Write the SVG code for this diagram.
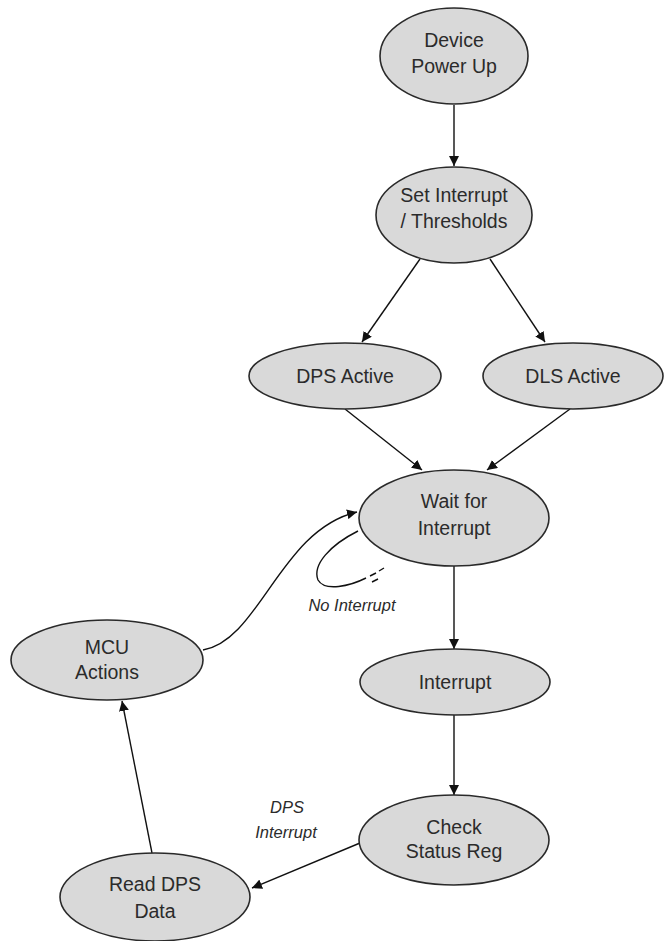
<svg xmlns="http://www.w3.org/2000/svg" width="666" height="941" viewBox="0 0 666 941">
<defs>
<marker id="ah" viewBox="0 0 10 10" refX="10" refY="5" markerWidth="10" markerHeight="10" markerUnits="userSpaceOnUse" orient="auto">
<path d="M0,0 L10,5 L0,10 Z" fill="#111"/>
</marker>
<style>
.n{fill:#d9d9d9;stroke:#2a2a2a;stroke-width:1.6}
.t{font-family:"Liberation Sans",Arial,sans-serif;font-size:19.5px;fill:#2b2b2b;text-anchor:middle}
.l{font-family:"Liberation Sans",Arial,sans-serif;font-size:16.5px;font-style:italic;fill:#2b2b2b;text-anchor:middle}
.c{fill:none;stroke:#111;stroke-width:1.4}
</style>
</defs>
<rect width="666" height="941" fill="#fff"/>
<g id="connectors">
<line class="c" x1="454" y1="105" x2="454" y2="166" marker-end="url(#ah)"/>
<line class="c" x1="420" y1="259" x2="362" y2="342" marker-end="url(#ah)"/>
<line class="c" x1="490" y1="259" x2="545" y2="342" marker-end="url(#ah)"/>
<line class="c" x1="345" y1="409" x2="422" y2="470" marker-end="url(#ah)"/>
<line class="c" x1="570" y1="409" x2="487" y2="470" marker-end="url(#ah)"/>
<line class="c" x1="454" y1="566" x2="454" y2="649" marker-end="url(#ah)"/>
<line class="c" x1="454" y1="715" x2="454" y2="795" marker-end="url(#ah)"/>
<line class="c" x1="360" y1="843" x2="252" y2="888" marker-end="url(#ah)"/>
<line class="c" x1="152" y1="853" x2="122" y2="701" marker-end="url(#ah)"/>
<path class="c" d="M203,650 C260,640 280,530 357,512" marker-end="url(#ah)"/>
<path class="c" d="M358,531 C330,545 312,565 318,580 C325,592 350,586 366,578"/>
<path class="c" d="M370,576 L376,573 M379,571 L384,568 M372,582 L378,579" />
</g>
<g id="label-no-interrupt"><text class="l" x="352" y="611">No Interrupt</text></g>
<g id="label-dps-interrupt"><text class="l" x="287" y="813">DPS</text><text class="l" x="286" y="838">Interrupt</text></g>
<g id="device-power-up"><ellipse class="n" cx="454" cy="56" rx="74" ry="48"/><text class="t" x="454" y="47">Device</text><text class="t" x="454" y="73">Power Up</text></g>
<g id="set-interrupt"><ellipse class="n" cx="454" cy="215" rx="78" ry="48"/><text class="t" x="454" y="202">Set Interrupt</text><text class="t" x="454" y="228">/ Thresholds</text></g>
<g id="dps-active"><ellipse class="n" cx="345" cy="376" rx="96" ry="33"/><text class="t" x="345" y="383">DPS Active</text></g>
<g id="dls-active"><ellipse class="n" cx="573" cy="376" rx="90" ry="33"/><text class="t" x="573" y="383">DLS Active</text></g>
<g id="wait-for-interrupt"><ellipse class="n" cx="454" cy="518" rx="95" ry="48"/><text class="t" x="454" y="508">Wait for</text><text class="t" x="454" y="535">Interrupt</text></g>
<g id="interrupt"><ellipse class="n" cx="455" cy="682" rx="95" ry="33"/><text class="t" x="455" y="689">Interrupt</text></g>
<g id="check-status-reg"><ellipse class="n" cx="454" cy="840" rx="95" ry="45"/><text class="t" x="454" y="834">Check</text><text class="t" x="454" y="858">Status Reg</text></g>
<g id="mcu-actions"><ellipse class="n" cx="107" cy="660" rx="96" ry="40"/><text class="t" x="107" y="654">MCU</text><text class="t" x="107" y="679">Actions</text></g>
<g id="read-dps-data"><ellipse class="n" cx="155" cy="897" rx="95" ry="44"/><text class="t" x="155" y="891">Read DPS</text><text class="t" x="155" y="918">Data</text></g>
</svg>
